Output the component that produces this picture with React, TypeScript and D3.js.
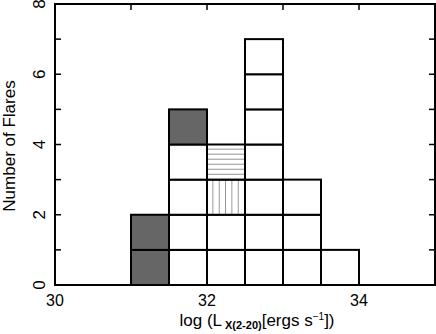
import React from 'react';
import * as d3 from 'd3';

// histogram bins (log L lower edge) and how many flares fall in each
const binStarts = [31.0, 31.5, 32.0, 32.5, 33.0, 33.5];
const binCounts = [2, 5, 4, 7, 3, 1];
const binWidth = 0.5;
// cells with a special style: [bin lower edge, stack level, kind]
const specialCells: [number, number, string][] = [
  [31.0, 0, 'gray'],
  [31.0, 1, 'gray'],
  [31.5, 4, 'gray'],
  [32.0, 2, 'vert'],
  [32.0, 3, 'horiz'],
];
const xTicks = [30, 31, 32, 33, 34, 35];
const xLabels = [30, 32, 34];
const yTicks = [0, 1, 2, 3, 4, 5, 6, 7, 8];
const yLabels = [0, 2, 4, 6, 8];

const W = 436, H = 334;
const left = 55, right = 435, top = 4, bottom = 285;
const font = 'Liberation Sans, Arial, Helvetica, sans-serif';

export default function App() {
  const x = d3.scaleLinear().domain([30, 35]).range([left, right]);
  const y = d3.scaleLinear().domain([0, 8]).range([bottom, top]);

  const kindOf = (b: number, lvl: number) => {
    const c = specialCells.find(s => s[0] === b && s[1] === lvl);
    return c ? c[2] : 'open';
  };

  const cells: any[] = [];
  binStarts.forEach((b, i) => {
    for (let lvl = 0; lvl < binCounts[i]; lvl++) {
      const kind = kindOf(b, lvl);
      const x0 = x(b), x1 = x(b + binWidth);
      const y0 = y(lvl + 1), y1 = y(lvl);
      let fill = '#fff';
      if (kind === 'gray') fill = '#666';
      if (kind === 'vert') fill = 'url(#vhatch)';
      if (kind === 'horiz') fill = 'url(#hhatch)';
      cells.push(
        <rect key={b + '-' + lvl} x={x0} y={y0} width={x1 - x0} height={y1 - y0}
          fill={fill} stroke="#000" strokeWidth={2} />
      );
    }
  });

  const tickLen = 6;
  const vStep = (x(32.5) - x(32)) / 6;
  const hStep = (y(3) - y(4)) / 7;

  return (
    <svg width={W} height={H} style={{ position: 'absolute', left: 0, top: 0 }}>
      <defs>
        <pattern id="vhatch" patternUnits="userSpaceOnUse" width={vStep} height={10} x={x(32)}>
          <rect width={vStep} height={10} fill="#fff" />
          <line x1={vStep} y1={0} x2={vStep} y2={10} stroke="#555" strokeWidth={1.2} />
        </pattern>
        <pattern id="hhatch" patternUnits="userSpaceOnUse" width={10} height={hStep} y={y(4)}>
          <rect width={10} height={hStep} fill="#fff" />
          <line x1={0} y1={hStep} x2={10} y2={hStep} stroke="#444" strokeWidth={1.2} />
        </pattern>
      </defs>

      {cells}

      {/* ticks, inward on all four sides */}
      <g stroke="#000" strokeWidth={1.5}>
        {xTicks.map(t => (
          <g key={'xt' + t}>
            <line x1={x(t)} x2={x(t)} y1={bottom} y2={bottom - tickLen} />
            <line x1={x(t)} x2={x(t)} y1={top} y2={top + tickLen} />
          </g>
        ))}
        {yTicks.map(t => (
          <g key={'yt' + t}>
            <line x1={left} x2={left + tickLen} y1={y(t)} y2={y(t)} />
            <line x1={right} x2={right - tickLen} y1={y(t)} y2={y(t)} />
          </g>
        ))}
      </g>

      <rect x={left} y={top} width={right - left} height={bottom - top}
        fill="none" stroke="#000" strokeWidth={2} />

      <g fontFamily={font} fontSize={16} fill="#000">
        {xLabels.map(t => (
          <text key={'xl' + t} x={x(t)} y={306} textAnchor="middle">{t}</text>
        ))}
        {yLabels.map(t => (
          <text key={'yl' + t} transform={`translate(45,${y(t)}) rotate(-90)`} textAnchor="middle" fontSize={17}>{t}</text>
        ))}
        <text transform={`translate(15,146) rotate(-90)`} textAnchor="middle" fontSize={17}>Number of Flares</text>
        <text x={257} y={326} textAnchor="middle" fontSize={17}>
          log (L
          <tspan fontSize={11} fontWeight="bold" dx={3} dy={3}>X(2-20)</tspan>
          <tspan dy={-3}>[ergs s</tspan>
          <tspan fontSize={10} dy={-6}>−1</tspan>
          <tspan dy={6}>])</tspan>
        </text>
      </g>
    </svg>
  );
}
